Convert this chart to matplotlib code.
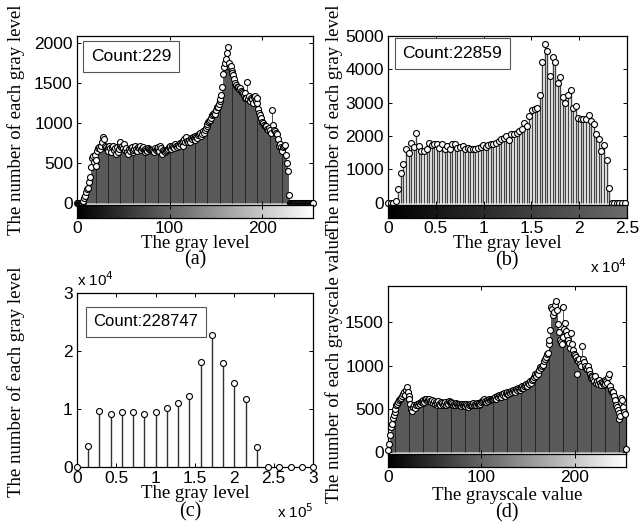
import numpy as np
import matplotlib
matplotlib.use("Agg")
import matplotlib.pyplot as plt
from matplotlib.ticker import FuncFormatter

# ---- data ----
a_levels = np.arange(256)
a_counts = [0, 0, 0, 0, 0, 0, 10, 30, 60, 90, 140, 170, 190, 260, 330, 450,
            560, 590, 520, 600, 470, 540, 650, 690, 700, 680, 720, 760, 830, 800, 720, 700,
            680, 690, 650, 710, 690, 640, 700, 720, 660, 690, 610, 700, 640, 680, 730, 760,
            700, 720, 690, 740, 660, 690, 640, 620, 680, 650, 690, 700, 640, 660, 680, 710,
            680, 650, 700, 690, 720, 660, 690, 700, 670, 640, 680, 660, 650, 690, 680, 660,
            660, 670, 650, 640, 690, 660, 680, 670, 700, 650, 710, 690, 620, 660, 650, 640,
            650, 660, 680, 700, 690, 710, 680, 720, 700, 690, 740, 710, 700, 730, 720, 750,
            740, 760, 720, 780, 800, 760, 830, 780, 760, 790, 770, 810, 800, 830, 820, 790,
            840, 830, 820, 850, 870, 880, 840, 860, 900, 880, 920, 940, 960, 990, 1010, 1030,
            1040, 1060, 1100, 1110, 1130, 1120, 1160, 1200, 1210, 1240, 1280, 1300, 1350, 1450, 1620, 1700,
            1760, 1800, 1880, 1950, 1750, 1700, 1720, 1660, 1630, 1600, 1560, 1500, 1480, 1450, 1460, 1430,
            1440, 1410, 1390, 1380, 1350, 1380, 1320, 1320, 1520, 1300, 1340, 1280, 1320, 1300, 1260, 1330,
            1340, 1280, 1260, 1320, 1180, 1130, 1100, 1060, 1010, 1000, 980, 960, 960, 930, 920, 940,
            900, 920, 880, 1170, 980, 920, 900, 880, 860, 800, 720, 740, 700, 660, 650, 700,
            710, 730, 600, 500, 400, 100, 0, 0, 0, 0, 0, 0, 0, 0, 0, 0,
            0, 0, 0, 0, 0, 0, 0, 0, 0, 0, 0, 0, 0, 0, 0, 0]

b_step = 269
b_counts = [0, 0, 0, 50, 400, 900, 1170, 1600, 1480, 1780,
            1680, 2080, 1700, 1560, 1560, 1620, 1800, 1730, 1750, 1750,
            1630, 1750, 1600, 1700, 1620, 1750, 1750, 1640, 1680, 1700,
            1620, 1640, 1610, 1620, 1620, 1650, 1680, 1720, 1680, 1720,
            1760, 1760, 1800, 1860, 1900, 1950, 2000, 1880, 2060, 2060,
            2100, 2150, 2200, 2400, 2300, 2600, 2780, 2800, 2850, 3220,
            4220, 4750, 4560, 3800, 4370, 4220, 3600, 3780, 3180, 2980,
            3220, 3370, 2840, 2900, 2540, 2500, 2500, 2520, 2640, 2460,
            2360, 2050, 1900, 1560, 1720, 1280, 430, 0, 0, 0,
            0, 0, 0]
b_pos = np.arange(len(b_counts)) * b_step

c_pos = np.linspace(0, 3e5, 22)
c_counts = [0, 3700, 9600, 9200, 9400, 9400, 9200, 9400, 10100, 11000, 12300,
            18100, 22800, 18000, 14500, 11800, 3500, 0, 0, 0, 0, 0]

d_levels = np.arange(256)
d_counts = [30, 100, 200, 290, 330, 400, 430, 460, 500, 540, 560, 580, 600, 610, 630, 650,
            670, 700, 660, 720, 750, 700, 650, 620, 560, 500, 480, 520, 540, 510, 550, 560,
            540, 570, 560, 580, 590, 600, 570, 580, 610, 620, 590, 600, 610, 590, 580, 600,
            570, 590, 560, 580, 550, 570, 590, 560, 540, 580, 570, 550, 560, 580, 550, 570,
            560, 590, 580, 560, 580, 570, 540, 560, 550, 570, 560, 540, 560, 550, 530, 560,
            540, 560, 550, 530, 560, 540, 520, 550, 560, 540, 550, 570, 540, 560, 550, 570,
            560, 540, 570, 560, 580, 590, 600, 610, 590, 580, 600, 590, 610, 600, 620, 610,
            620, 610, 630, 640, 620, 650, 640, 660, 650, 640, 670, 660, 680, 650, 680, 670,
            690, 670, 700, 680, 710, 700, 720, 710, 700, 730, 720, 740, 730, 720, 740, 750,
            760, 740, 770, 780, 790, 770, 800, 790, 820, 800, 830, 850, 870, 890, 900, 880,
            920, 900, 950, 980, 970, 1000, 1010, 1050, 1080, 1100, 1130, 1150, 1250, 1300, 1410, 1680,
            1650, 1580, 1620, 1700, 1750, 1640, 1480, 1390, 1300, 1270, 1250, 1330, 1680, 1420, 1490, 1400,
            1350, 1300, 1260, 1200, 1380, 1250, 1180, 1130, 1120, 1100, 900, 1060, 1050, 1080, 1020, 1000,
            1230, 1080, 1040, 1000, 970, 960, 1000, 950, 900, 880, 860, 870, 850, 820, 880, 800,
            820, 790, 830, 800, 780, 810, 800, 780, 830, 790, 820, 800, 870, 900, 770, 720,
            700, 690, 650, 600, 550, 520, 490, 450, 380, 420, 630, 600, 520, 470, 440, 40]

W, H = 639, 523
SANS = "Liberation Sans"
SERIF = "Liberation Serif"
plt.rcParams["font.family"] = SANS
plt.rcParams["font.size"] = 12.5

fig = plt.figure(figsize=(W / 100, H / 100), dpi=100)


def px_axes(l, t, r, b):
    return fig.add_axes([l / W, 1 - b / H, (r - l) / W, (b - t) / H])


def style(ax):
    ax.tick_params(direction="in", length=3, width=0.7, top=True, right=True,
                   labelsize=12.5, pad=3)
    for s in ax.spines.values():
        s.set_linewidth(0.9)


def stems(ax, x, y, lc, lw):
    ax.vlines(x, 0, y, colors=lc, lw=lw, zorder=2)
    ax.plot(x, y, "o", ms=4.3, mfc="white", mec="black", mew=0.8, zorder=3, clip_on=False)


def count_box(ax, x, y, txt, fs=12.5):
    ax.text(x, y, txt, transform=ax.transAxes, fontsize=fs, family=SANS,
            va="center", ha="left",
            bbox=dict(boxstyle="square,pad=0.45", fc="white", ec="#555555", lw=0.8), zorder=5)


def gray_bar(l, t, r, b, xmax, top_gray, xticks):
    cax = px_axes(l, t, r, b)
    grad = np.linspace(0, top_gray, 256)[None, :]
    cax.imshow(grad, cmap="gray", vmin=0, vmax=1, aspect="auto",
               extent=[0, xmax, 0, 1], interpolation="bilinear")
    cax.set_xlim(0, xmax)
    cax.set_yticks([])
    cax.set_xticks(xticks)
    style(cax)
    cax.tick_params(left=False, right=False, top=True, pad=2)
    return cax


sci = lambda p: FuncFormatter(lambda v, _: ("%g" % (v / 10 ** p)))

# ---- (a) ----
ax = px_axes(77, 36, 313, 205)
stems(ax, a_levels, a_counts, "#111111", 0.5)
ax.set_xlim(0, 255)
ax.set_ylim(-25, 2094)
ax.set_yticks([0, 500, 1000, 1500, 2000])
ax.set_xticks([0, 100, 200])
ax.set_xticklabels([])
style(ax)
count_box(ax, 0.06, 0.88, "Count:229")
gray_bar(77, 205, 313, 218, 255, 1.0, [0, 100, 200])

# ---- (b) ----
ax = px_axes(388, 36, 627, 205)
stems(ax, b_pos, b_counts, "#454545", 1.0)
ax.set_xlim(0, 25000)
ax.set_ylim(-70, 5000)
ax.set_yticks([0, 1000, 2000, 3000, 4000, 5000])
ax.set_xticks([0, 5000, 10000, 15000, 20000, 25000])
ax.set_xticklabels([])
style(ax)
count_box(ax, 0.06, 0.895, "Count:22859")
cax = gray_bar(388, 205, 627, 218, 25000, 0.42, [0, 5000, 10000, 15000, 20000, 25000])
cax.xaxis.set_major_formatter(sci(4))

# ---- (c) ----
ax = px_axes(77, 293, 313, 467)
stems(ax, c_pos, c_counts, "#303030", 1.0)
ax.set_xlim(0, 3e5)
ax.set_ylim(0, 3e4)
ax.set_xticks(np.arange(0, 3.01e5, 0.5e5))
ax.set_yticks([0, 1e4, 2e4, 3e4])
ax.xaxis.set_major_formatter(sci(5))
ax.yaxis.set_major_formatter(sci(4))
style(ax)
ax.tick_params(axis="x", pad=3)
count_box(ax, 0.07, 0.835, "Count:228747", fs=12)

# ---- (d) ----
ax = px_axes(388, 286, 626, 454)
stems(ax, d_levels, d_counts, "#111111", 0.5)
ax.set_xlim(0, 255)
ax.set_ylim(-20, 1918)
ax.set_yticks([0, 500, 1000, 1500])
ax.set_xticks([0, 100, 200])
ax.set_xticklabels([])
style(ax)
gray_bar(388, 454, 626, 467, 255, 1.0, [0, 100, 200])

# ---- labels ----
def ftxt(x, y, s, **kw):
    fig.text(x / W, 1 - y / H, s, **kw)

lab = dict(family=SERIF, fontsize=13.5, ha="center", va="center")
ftxt(195, 243, "The gray level", **lab)
ftxt(507, 243, "The gray level", **lab)
ftxt(195, 494, "The gray level", **lab)
ftxt(507, 496, "The grayscale value", **lab)
ftxt(16, 120, "The number of each gray level", rotation=90, **lab)
ftxt(334, 120, "The number of each gray level", rotation=90, **lab)
ftxt(16, 382, "The number of each gray level", rotation=90, **lab)
ftxt(334, 367, "The number of each grayscale value", rotation=90, **lab)

pan = dict(family=SERIF, fontsize=14.5, ha="center", va="center")
ftxt(195, 260, "(a)", **pan)
ftxt(507, 261, "(b)", **pan)
ftxt(190, 512, "(c)", **pan)
ftxt(507, 513, "(d)", **pan)

mult = dict(family=SANS, fontsize=11, ha="left", va="center")
ftxt(590, 267, r"x 10$^{4}$", **mult)
ftxt(277, 512, r"x 10$^{5}$", **mult)
ftxt(77, 280, r"x 10$^{4}$", **mult)

fig.savefig("out.png", dpi=100)
